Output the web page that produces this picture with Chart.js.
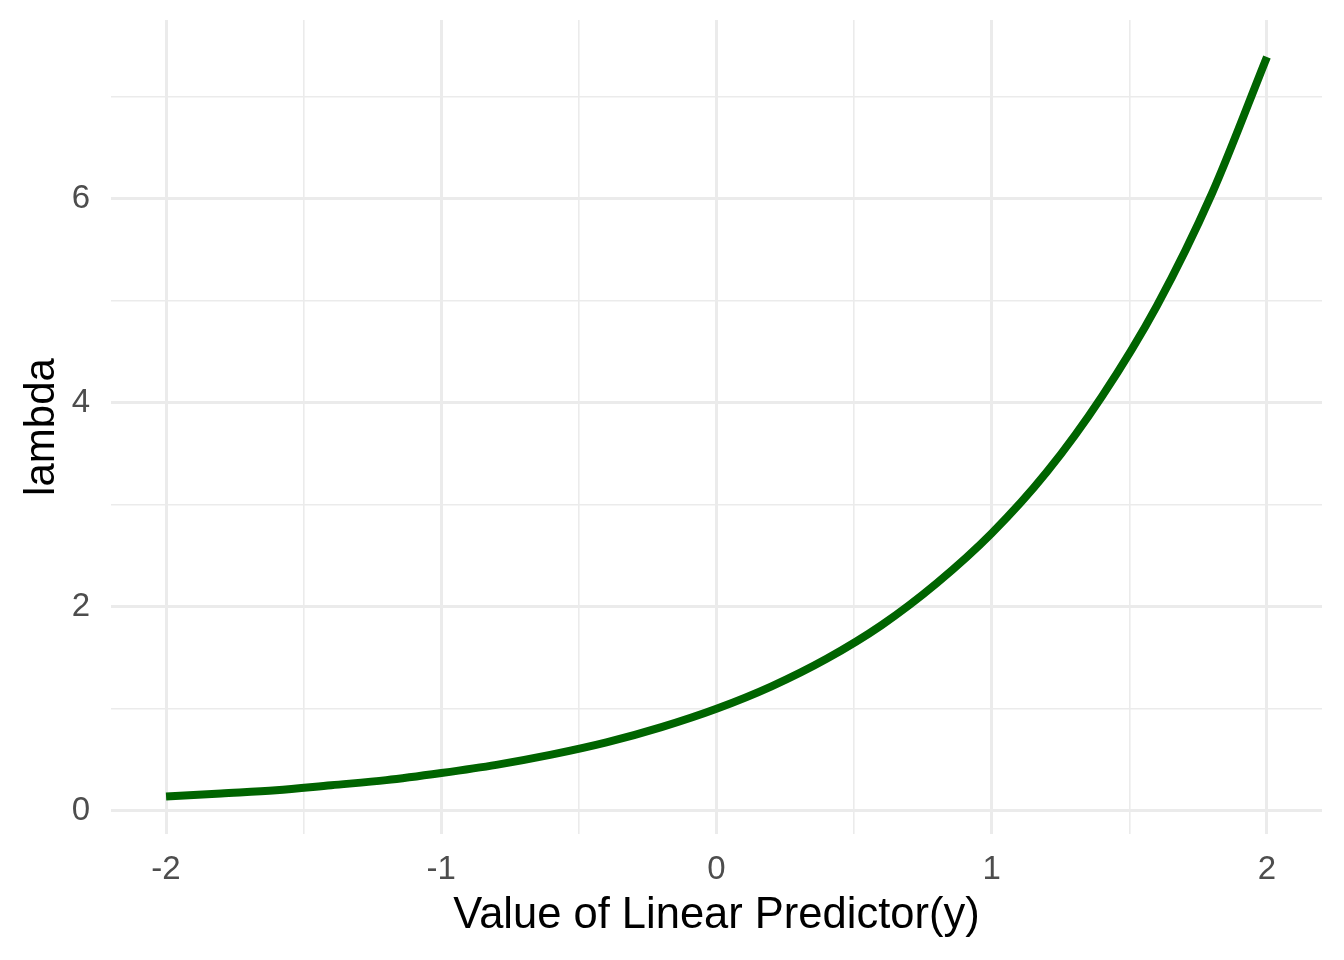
<!DOCTYPE html>
<html>
<head>
<meta charset="utf-8">
<script src="https://cdn.jsdelivr.net/npm/chart.js@4"></script>
<style>
  html, body { margin: 0; padding: 0; background: #fff; }
  #wrap { width: 1344px; height: 960px; }
</style>
</head>
<body>
<div id="wrap"><canvas id="chart-lambda" width="1344" height="960"></canvas></div>
<script>
// values
const predictor = [-2, -1.8, -1.6, -1.4, -1.2, -1, -0.8, -0.6, -0.4, -0.2, 0, 0.2, 0.4, 0.6, 0.8, 1, 1.2, 1.4, 1.6, 1.8, 2];
const lambda = [0.14, 0.17, 0.2, 0.25, 0.3, 0.37, 0.45, 0.55, 0.67, 0.82, 1.0, 1.22, 1.49, 1.82, 2.23, 2.72, 3.32, 4.06, 4.95, 6.05, 7.39];
const xTicks = [-2, -1.5, -1, -0.5, 0, 0.5, 1, 1.5, 2];
const yTicks = [0, 1, 2, 3, 4, 5, 6, 7];

const gridColor = '#ebebeb';
const isMajor = v => Number.isInteger(v);

const ctx = document.getElementById('chart-lambda').getContext('2d');
new Chart(ctx, {
  type: 'line',
  data: {
    datasets: [{
      data: predictor.map((x, i) => ({ x, y: lambda[i] })),
      borderColor: '#006400',
      borderWidth: 8,
      pointRadius: 0,
      cubicInterpolationMode: 'monotone',
      fill: false
    }]
  },
  options: {
    responsive: false,
    animation: false,
    layout: { padding: { top: 20, right: 22, bottom: 0, left: 0 } },
    plugins: { legend: { display: false }, tooltip: { enabled: false } },
    scales: {
      x: {
        type: 'linear',
        min: -2.2,
        max: 2.2,
        afterBuildTicks: s => { s.ticks = xTicks.map(v => ({ value: v })); },
        afterFit: s => { s.height = 126; s.paddingLeft = 0; s.paddingRight = 0; },
        border: { display: false },
        grid: {
          color: gridColor,
          lineWidth: c => isMajor(c.tick.value) ? 3 : 1.6,
          drawTicks: false
        },
        ticks: {
          autoSkip: false,
          maxRotation: 0,
          padding: 16,
          color: '#4d4d4d',
          font: { family: 'Liberation Sans, Arial, sans-serif', size: 33 },
          callback: v => isMajor(v) ? String(v) : ''
        },
        title: {
          display: true,
          text: 'Value of Linear Predictor(y)',
          color: '#000',
          font: { family: 'Liberation Sans, Arial, sans-serif', size: 43.5 },
          padding: { top: 18, bottom: 18 }
        }
      },
      y: {
        type: 'linear',
        min: -0.228,
        max: 7.752,
        afterBuildTicks: s => { s.ticks = yTicks.map(v => ({ value: v })); },
        afterFit: s => { s.width = 111; s.paddingTop = 0; s.paddingBottom = 0; },
        border: { display: false },
        grid: {
          color: gridColor,
          lineWidth: c => c.tick.value % 2 === 0 ? 3 : 1.6,
          drawTicks: false
        },
        ticks: {
          autoSkip: false,
          padding: 21,
          color: '#4d4d4d',
          font: { family: 'Liberation Sans, Arial, sans-serif', size: 33 },
          callback: v => v % 2 === 0 ? String(v) : ''
        },
        title: {
          display: true,
          text: 'lambda',
          color: '#000',
          font: { family: 'Liberation Sans, Arial, sans-serif', size: 42 },
          padding: { top: 17, bottom: 17 }
        }
      }
    }
  }
});
</script>
</body>
</html>
